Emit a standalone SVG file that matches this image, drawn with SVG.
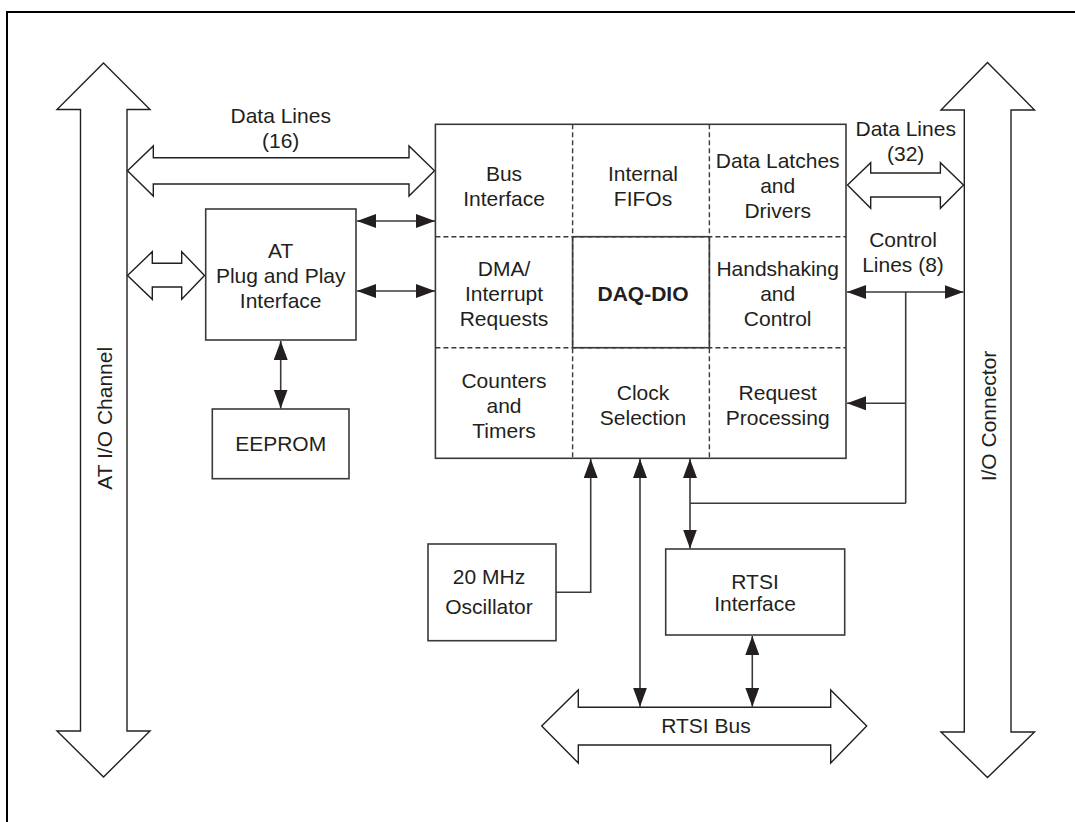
<svg xmlns="http://www.w3.org/2000/svg" width="1075" height="822" viewBox="0 0 1075 822">
<style>
.t{font-family:"Liberation Sans",Arial,sans-serif;font-size:21px;fill:#231f20;text-anchor:middle}
.b{font-weight:bold}
.box{fill:#fff;stroke:#3a3a3a;stroke-width:1.6}
.hollow{fill:#fff;stroke:#231f20;stroke-width:1.4;stroke-linejoin:miter}
.ln{fill:none;stroke:#3a3a3a;stroke-width:1.6}
.dash{fill:none;stroke:#3a3a3a;stroke-width:1.4;stroke-dasharray:5 3}
</style>
<defs>
<marker id="ah" viewBox="0 0 19 14" refX="19" refY="7" markerWidth="19" markerHeight="14" markerUnits="userSpaceOnUse" orient="auto-start-reverse">
<path d="M0,0 L19,7 L0,14 z" fill="#231f20"/>
</marker>
</defs>
<rect width="1075" height="822" fill="#fff"/>
<path d="M7,822 V12 H1075" fill="none" stroke="#000" stroke-width="2"/>

<g id="at-io-channel">
<polygon class="hollow" points="103.5,63 150,109.5 127,109.5 127,731 150,731 103.5,777 57,731 80.5,731 80.5,109.5 57,109.5"/>
<text class="t" transform="translate(111.7,418.3) rotate(-90)">AT I/O Channel</text>
</g>

<g id="io-connector">
<polygon class="hollow" points="987.5,62.5 1034.5,110 1011,110 1011,732 1034.5,732 987.5,777.5 941,732 964.3,732 964.3,110 941,110"/>
<text class="t" transform="translate(995.5,416) rotate(-90)">I/O Connector</text>
</g>

<g id="data-lines-16">
<polygon class="hollow" points="127.5,170.7 153.3,146 153.3,157.7 409,157.7 409,146 434.5,170.7 409,196 409,184 153.3,184 153.3,196"/>
<text class="t" x="280.7" y="122.7">Data Lines</text>
<text class="t" x="280.7" y="148">(16)</text>
</g>

<g id="at-pnp-bus">
<polygon class="hollow" points="127.5,275.5 152.3,251.7 152.3,263.3 181.7,263.3 181.7,251.7 204.5,275.5 181.7,299.3 181.7,287 152.3,287 152.3,299.3"/>
</g>

<g id="data-lines-32">
<polygon class="hollow" points="847.5,185 870.7,162.7 870.7,173 940.4,173 940.4,162.7 963.5,185 940.4,208.3 940.4,197 870.7,197 870.7,208.3"/>
<text class="t" x="905.7" y="135.7">Data Lines</text>
<text class="t" x="905.7" y="160.7">(32)</text>
</g>

<g id="control-lines-label">
<text class="t" x="903" y="246.7">Control</text>
<text class="t" x="903" y="271.7">Lines (8)</text>
</g>

<g id="rtsi-bus">
<polygon class="hollow" points="541.7,726 578.3,690 578.3,707.3 830.7,707.3 830.7,690 866.7,726 830.7,763 830.7,745 578.3,745 578.3,763"/>
<text class="t" x="706" y="733.3">RTSI Bus</text>
</g>

<g id="at-pnp">
<rect class="box" x="205.7" y="209" width="150.3" height="131"/>
<text class="t" x="280.7" y="258.3">AT</text>
<text class="t" x="280.7" y="282.7">Plug and Play</text>
<text class="t" x="280.7" y="307.7">Interface</text>
</g>

<g id="eeprom">
<rect class="box" x="212.3" y="409" width="136.7" height="69.7"/>
<text class="t" x="280.7" y="451">EEPROM</text>
</g>

<g id="daq-dio">
<rect class="box" x="435.4" y="124.3" width="410.6" height="334"/>
<line class="dash" x1="572.6" y1="124.3" x2="572.6" y2="458.3"/>
<line class="dash" x1="709.4" y1="124.3" x2="709.4" y2="458.3"/>
<line class="dash" x1="435.4" y1="236.7" x2="846" y2="236.7"/>
<line class="dash" x1="435.4" y1="347.7" x2="846" y2="347.7"/>
<rect class="ln" x="572.6" y="236.7" width="136.8" height="111"/>
<text class="t" x="504" y="181">Bus</text>
<text class="t" x="504" y="205.7">Interface</text>
<text class="t" x="643" y="181">Internal</text>
<text class="t" x="643" y="206">FIFOs</text>
<text class="t" x="777.7" y="168.3">Data Latches</text>
<text class="t" x="777.7" y="193.3">and</text>
<text class="t" x="777.7" y="218.3">Drivers</text>
<text class="t" x="504" y="276">DMA/</text>
<text class="t" x="504" y="301">Interrupt</text>
<text class="t" x="504" y="326">Requests</text>
<text class="t b" x="643" y="300.7">DAQ-DIO</text>
<text class="t" x="777.7" y="276">Handshaking</text>
<text class="t" x="777.7" y="301">and</text>
<text class="t" x="777.7" y="326">Control</text>
<text class="t" x="504" y="387.7">Counters</text>
<text class="t" x="504" y="412.7">and</text>
<text class="t" x="504" y="437.7">Timers</text>
<text class="t" x="643" y="400">Clock</text>
<text class="t" x="643" y="425">Selection</text>
<text class="t" x="777.7" y="400">Request</text>
<text class="t" x="777.7" y="425">Processing</text>
</g>

<g id="oscillator">
<rect class="box" x="428" y="544" width="128" height="96.7"/>
<text class="t" x="489" y="584">20 MHz</text>
<text class="t" x="489" y="614">Oscillator</text>
</g>

<g id="rtsi-interface">
<rect class="box" x="665.7" y="549" width="179" height="86"/>
<text class="t" x="755" y="589">RTSI</text>
<text class="t" x="755" y="611">Interface</text>
</g>

<g id="connectors">
<line class="ln" x1="357" y1="221" x2="435" y2="221" marker-start="url(#ah)" marker-end="url(#ah)"/>
<line class="ln" x1="357" y1="291" x2="435" y2="291" marker-start="url(#ah)" marker-end="url(#ah)"/>
<line class="ln" x1="280.7" y1="341" x2="280.7" y2="408.5" marker-start="url(#ah)" marker-end="url(#ah)"/>
<line class="ln" x1="847" y1="292" x2="963.5" y2="292" marker-start="url(#ah)" marker-end="url(#ah)"/>
<line class="ln" x1="905.7" y1="292" x2="905.7" y2="503.3"/>
<line class="ln" x1="905.7" y1="403.3" x2="847" y2="403.3" marker-end="url(#ah)"/>
<line class="ln" x1="905.7" y1="503.3" x2="690" y2="503.3"/>
<path class="ln" d="M556,592.3 H590.7 V459" marker-end="url(#ah)"/>
<line class="ln" x1="640" y1="459" x2="640" y2="706.7" marker-start="url(#ah)" marker-end="url(#ah)"/>
<line class="ln" x1="690" y1="459" x2="690" y2="548.5" marker-start="url(#ah)" marker-end="url(#ah)"/>
<line class="ln" x1="752.3" y1="636" x2="752.3" y2="706.7" marker-start="url(#ah)" marker-end="url(#ah)"/>
</g>
</svg>
